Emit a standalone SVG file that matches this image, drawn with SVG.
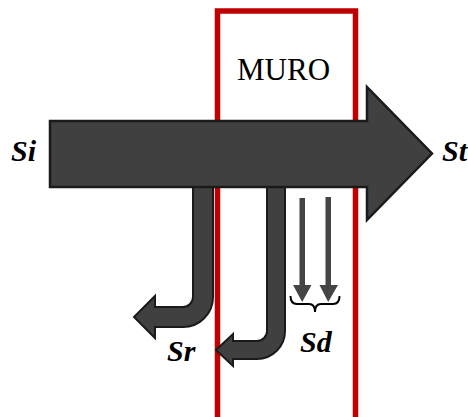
<svg xmlns="http://www.w3.org/2000/svg" width="468" height="417" viewBox="0 0 468 417">
<style>
.wall{fill:none;stroke:#c00000;stroke-width:5.5}
.flow{fill:#404040;stroke:#1a1a1a;stroke-width:2.5;stroke-linejoin:miter}
.jflow{fill:#404040;stroke:#1a1a1a;stroke-width:2}
.down{fill:#454545;stroke:none}
.lbl{font-family:"Liberation Serif",serif;font-weight:bold;font-style:italic;font-size:30px;fill:#000}
.muro{font-family:"Liberation Serif",serif;font-size:31px;fill:#000}
</style>
<rect width="468" height="417" fill="#fff"/>
<g id="wall">
<rect class="wall" x="217.5" y="11" width="138" height="420"/>
<text class="muro" x="237" y="80">MURO</text>
</g>
<g id="connectors">
<g id="reflected1">
<path class="jflow" d="M193,180 H213 V297 A30,30 0 0 1 183,327 H155 V338 L134,317 L155,296 V307 H183 A10,10 0 0 0 193,297 Z"/>
</g>
<g id="reflected2">
<path class="jflow" d="M267,180 H285 V331 A28,28 0 0 1 257,359 H233 V366 L216,350 L233,334 V341 H257 A10,10 0 0 0 267,331 Z"/>
</g>
<g id="incident">
<path class="flow" d="M50,121 H367 V87 L432,153.5 L367,220 V187 H50 Z"/>
</g>
<g id="diffuse">
<rect class="down" x="299.5" y="198" width="5.5" height="88"/>
<polygon class="down" points="293,285 311.5,285 302.2,302"/>
<rect class="down" x="325.5" y="197" width="5.5" height="89"/>
<polygon class="down" points="319.5,285 338,285 328.2,302"/>
<path d="M290.5,296 Q290.5,304 297,304 H309 Q315,304 315,312 Q315,304 321,304 H333 Q339.5,304 339.5,296" fill="none" stroke="#000" stroke-width="2"/>
</g>
</g>
<g id="labels">
<text id="Si" class="lbl" x="11" y="161">Si</text>
<text id="St" class="lbl" x="442" y="161">St</text>
<text id="Sr" class="lbl" x="167" y="361">Sr</text>
<text id="Sd" class="lbl" x="300" y="352">Sd</text>
</g>
</svg>
